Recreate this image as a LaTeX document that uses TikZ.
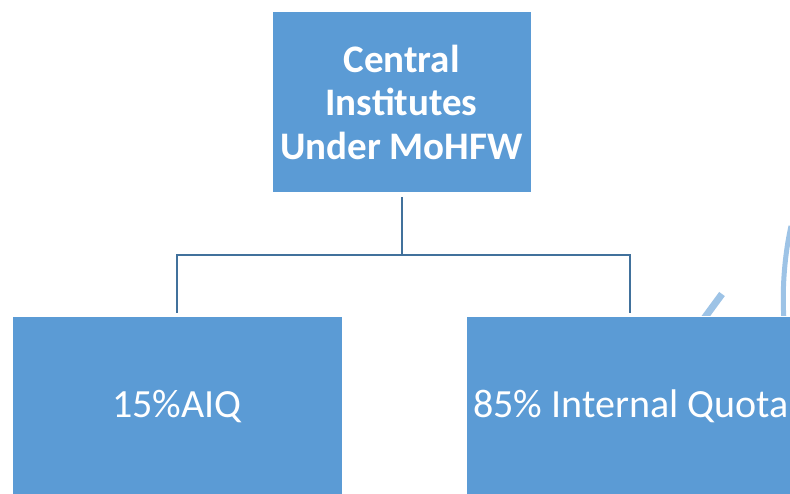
\documentclass[tikz,border=0pt]{standalone}
\usepackage{fontspec}
\setmainfont{Carlito}
\definecolor{boxblue}{HTML}{5B9BD5}
\definecolor{lineblue}{HTML}{41719C}
\definecolor{paleblue}{HTML}{9DC3E6}
\tikzset{
  orgbox/.style={draw=white, line width=0.8pt, fill=boxblue, text=white,
    align=center, inner sep=0pt},
  conn/.style={draw=lineblue, line width=2pt}
}
\begin{document}
\begin{tikzpicture}[x=1pt,y=-1pt]
      \useasboundingbox (0,0) rectangle (790,493);
      \clip (0,0) rectangle (790,493);
      % stray shapes at the right edge
      \draw[paleblue, line width=5pt] (791,226) .. controls (784,258) and (782,292) .. (784,320);
      \draw[paleblue, line width=7pt] (722,294) -- (700,324);
      \draw
        (401.5,102) node[orgbox, minimum width=259, minimum height=181,
          font=\fontsize{39}{43.5}\selectfont\bfseries] (top){Central\\Institutes\\Under MoHFW}
        (177,406.5) node[orgbox, minimum width=330, minimum height=181,
          font=\fontsize{40}{48}\selectfont] (aiq){15\%AIQ}
        (631,406.5) node[orgbox, minimum width=330, minimum height=181,
          font=\fontsize{40}{48}\selectfont] (iq){85\% Internal Quota};
      \coordinate (split) at (401.5,255);
      \begin{scope}[conn]
        \draw ([yshift=-4pt]top.south) -- (split);
        \draw (split) -| ([yshift=3pt]aiq.north);
        \draw (split) -| ([yshift=3pt,xshift=-1pt]iq.north);
      \end{scope}
    \end{tikzpicture}
\end{document}
